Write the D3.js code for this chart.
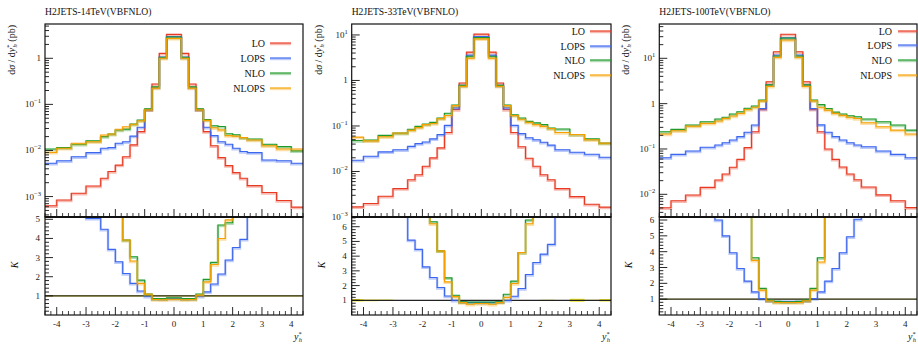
<!DOCTYPE html>
<html><head><meta charset="utf-8">
<script src="https://cdn.jsdelivr.net/npm/d3@7"></script>
<style>
body{margin:0;background:#fff;}
svg{font-family:"Liberation Serif","DejaVu Serif",serif;}
</style></head><body><svg id="c" width="918" height="346"></svg>
<script>
// ---------------- DATA ----------------
const binEdges = [-4.4,-4,-3.5,-3,-2.5,-2.25,-2,-1.75,-1.5,-1.25,-1,-0.75,-0.5,-0.25,0.25,0.5,0.75,1,1.25,1.5,1.75,2,2.25,2.5,3,3.5,4,4.4];
const seriesNames = ["LO","LOPS","NLO","NLOPS"];
const xTicks = [-4,-3,-2,-1,0,1,2,3,4];
const titles = ["H2JETS-14TeV(VBFNLO)","H2JETS-33TeV(VBFNLO)","H2JETS-100TeV(VBFNLO)"];

// 14 TeV
const lo14    = [0.00063,0.00084,0.00118,0.0017,0.0025,0.0035,0.0048,0.0073,0.0132,0.0256,0.078,0.277,1.28,3.3,1.28,0.277,0.078,0.0256,0.0127,0.0070,0.0047,0.0033,0.0025,0.00173,0.00122,0.00082,0.00059];
const lops14  = [0.0053,0.006,0.0073,0.009,0.0112,0.0115,0.0143,0.0155,0.0205,0.032,0.076,0.235,1.07,2.95,1.07,0.235,0.076,0.032,0.021,0.0155,0.0136,0.0112,0.0095,0.009,0.0062,0.006,0.0053];
const nlo14   = [0.0108,0.0115,0.0136,0.0163,0.020,0.0228,0.0279,0.029,0.0376,0.046,0.08,0.24,1.05,2.9,1.05,0.24,0.08,0.047,0.0345,0.033,0.023,0.022,0.019,0.0178,0.0136,0.0121,0.0098];
const nlops14 = [0.0091,0.0112,0.0143,0.0155,0.0217,0.0228,0.0288,0.0328,0.037,0.044,0.076,0.225,1.0,2.7,1.0,0.225,0.076,0.045,0.031,0.028,0.021,0.0205,0.019,0.0169,0.0127,0.0108,0.0108];
const kLops14  = [8.4,7.1,6.2,5.05,4.48,3.43,2.78,2.17,1.65,1.25,0.98,0.86,0.85,0.87,0.85,0.86,0.98,1.21,1.62,2.14,2.87,3.53,3.95,5.3,5.5,7.0,9.0];
const kNlo14   = [17,13.7,11.5,9.6,8.0,6.5,5.8,3.92,3.04,1.82,1.1,0.86,0.86,0.9,0.86,0.86,1.1,1.86,2.75,4.7,4.82,6.6,7.6,10.3,11.1,14.8,16.6];
const kNlops14 = [14.4,13.3,12.1,9.1,8.7,6.5,6.0,3.92,2.82,1.65,1.09,0.81,0.80,0.82,0.80,0.81,1.04,1.73,2.64,4.0,4.97,6.2,7.6,9.8,10.4,13.2,18.3];
const loErr14  = [0.03,0.03,0.03,0.03,0.03,0.03,0.03,0.03,0.03,0.03,0.03,0.03,0.03,0.03,0.03,0.03,0.03,0.03,0.03,0.03,0.03,0.03,0.03,0.03,0.03,0.03,0.03];

// 33 TeV
const lo33    = [0.00167,0.00198,0.00286,0.0042,0.0066,0.0085,0.013,0.0199,0.033,0.072,0.23,0.877,4.2,10.4,4.2,0.877,0.23,0.072,0.035,0.0195,0.013,0.0085,0.0066,0.0042,0.0028,0.0019,0.00165];
const lops33  = [0.0176,0.0216,0.027,0.030,0.0357,0.041,0.0446,0.052,0.0645,0.103,0.25,0.78,3.6,9.2,3.6,0.78,0.25,0.103,0.068,0.055,0.05,0.044,0.038,0.030,0.0265,0.024,0.0205];
const nlo33   = [0.048,0.049,0.062,0.07,0.085,0.098,0.11,0.12,0.15,0.19,0.29,0.78,3.4,8.8,3.4,0.78,0.29,0.177,0.15,0.126,0.117,0.107,0.09,0.086,0.065,0.052,0.042];
const nlops33 = [0.057,0.047,0.058,0.07,0.08,0.092,0.107,0.113,0.145,0.17,0.28,0.74,3.1,8.2,3.1,0.74,0.28,0.17,0.14,0.12,0.107,0.098,0.088,0.072,0.065,0.05,0.042];
const kLops33  = [10.5,10.9,9.4,7.1,5.09,4.46,3.27,2.55,1.87,1.29,1.0,0.89,0.86,0.86,0.86,0.89,1.0,1.27,1.8,2.75,3.57,4.14,4.8,7.1,9.5,12.6,12.4];
const kNlo33   = [28,25,21,17,13,11.5,8.5,6.34,4.36,2.52,1.34,0.89,0.88,0.88,0.88,0.89,1.41,2.3,4.25,6.46,9,12.6,13.6,20.5,23,27,25];
const kNlops33 = [34,24,20,17,12,10.8,8.2,6.2,4.36,2.25,1.25,0.84,0.73,0.78,0.73,0.84,1.2,2.14,4.25,6.2,8.2,11.5,13.3,17,23,26,25];
const loErr33  = [0.08,0.06,0.05,0.02,0.02,0.02,0.01,0.01,0.01,0.01,0.01,0.01,0.01,0.01,0.01,0.01,0.01,0.01,0.01,0.01,0.02,0.03,0.03,0.02,0.10,0.03,0.08];

// 100 TeV
const lo100    = [0.00506,0.00723,0.00964,0.01426,0.0207,0.028,0.0394,0.059,0.107,0.24,0.75,3.05,14,33.8,14,3.05,0.75,0.24,0.1,0.059,0.04,0.028,0.021,0.0145,0.0097,0.0072,0.0051];
const lops100  = [0.064,0.076,0.09,0.109,0.122,0.137,0.158,0.187,0.233,0.338,0.78,2.62,11.8,28.4,11.8,2.62,0.78,0.34,0.233,0.187,0.158,0.137,0.122,0.112,0.09,0.076,0.064];
const nlo100   = [0.24,0.27,0.338,0.4,0.46,0.5,0.59,0.66,0.79,0.89,1.2,2.6,11.2,28,11.2,2.6,1.2,0.95,0.78,0.65,0.59,0.54,0.515,0.46,0.40,0.338,0.26];
const nlops100 = [0.214,0.253,0.32,0.368,0.414,0.474,0.533,0.61,0.74,0.83,1.15,2.4,10.5,25.3,10.5,2.4,1.15,0.83,0.72,0.61,0.55,0.5,0.47,0.38,0.31,0.26,0.214];
const kLops100  = [12.6,10.5,9.3,7.6,6.0,5.0,3.93,2.94,2.14,1.46,1.04,0.9,0.86,0.86,0.86,0.9,1.04,1.46,2.14,2.94,3.93,4.94,6.05,7.7,9.3,10.5,12.5];
const kNlo100   = [28,24,21,17,14,10,8,6.8,7.4,3.62,1.68,0.94,0.86,0.83,0.86,0.94,1.68,3.62,7.8,11,14.7,19,24,32,41,47,51];
const kNlops100 = [26,22,19,16,13,9.5,7.5,6.5,6.9,3.45,1.57,0.9,0.79,0.79,0.79,0.9,1.57,3.35,7.2,10.3,13.7,17.8,22,26,32,36,42];
const loErr100  = [0.02,0.02,0.02,0.02,0.02,0.02,0.02,0.02,0.02,0.02,0.02,0.02,0.02,0.02,0.02,0.02,0.02,0.02,0.02,0.02,0.02,0.02,0.02,0.02,0.02,0.02,0.02];

// axis tick values
const yDecades14 = [1e-3,1e-2,1e-1,1];
const yDecades33 = [1e-3,1e-2,1e-1,1,10];
const yDecades100 = [1e-2,1e-1,1,10];
const kTicks14 = [1,2,3,4,5];
const kTicks33 = [1,2,3,4,5,6];
const kTicks100 = [1,2,3,4,5,6];

// ---------------- LAYOUT / STYLE ----------------
const TOP = 24, MID = 217, BOT = 315;
const colors = ["#e83a22","#3b66ee","#1f9a2a","#f5a000"];
const panels = [
  {title:titles[0], left:45, right:303, yDom:[3.6e-4,5.55], kMax:5.12, main:[lo14,lops14,nlo14,nlops14], ratio:[kLops14,kNlo14,kNlops14], err:loErr14, dec:yDecades14, kT:kTicks14, legTextX:-38, legL0:-33, legL1:-12, legY:[43,58,73,88]},
  {title:titles[1], left:351.7, right:611, yDom:[1.0e-3,17.4], kMax:6.66, main:[lo33,lops33,nlo33,nlops33], ratio:[kLops33,kNlo33,kNlops33], err:loErr33, dec:yDecades33, kT:kTicks33, legTextX:-26, legL0:-21, legL1:0, legY:[31,46,60,75]},
  {title:titles[2], left:659.3, right:917, yDom:[3.16e-3,57.1], kMax:6.19, main:[lo100,lops100,nlo100,nlops100], ratio:[kLops100,kNlo100,kNlops100], err:loErr100, dec:yDecades100, kT:kTicks100, legTextX:-25, legL0:-19, legL1:0, legY:[31,45,60,75]}
];

const svg = d3.select("#c");
const defs = svg.append("defs");
const line = d3.line();

function sup(sel, base, exp){
  sel.append("tspan").text(base);
  sel.append("tspan").attr("dy",-4).attr("font-size","6.5px").text(exp);
}

panels.forEach((p,pi)=>{
  const g = svg.append("g");
  const x = d3.scaleLinear().domain([-4.4,4.4]).range([p.left,p.right]);
  const y = d3.scaleLog().domain(p.yDom).range([MID,TOP]);
  const k = d3.scaleLinear().domain([0,p.kMax]).range([BOT,MID]);

  defs.append("clipPath").attr("id","cm"+pi).append("rect")
    .attr("x",p.left).attr("y",TOP).attr("width",p.right-p.left).attr("height",MID-TOP);
  defs.append("clipPath").attr("id","cr"+pi).append("rect")
    .attr("x",p.left).attr("y",MID).attr("width",p.right-p.left).attr("height",BOT-MID);

  const steps = (vals, sc) => {
    const pts = [];
    vals.forEach((v,i)=>{ pts.push([x(binEdges[i]),sc(v)]); pts.push([x(binEdges[i+1]),sc(v)]); });
    return pts;
  };

  // main plot curves
  const gm = g.append("g").attr("clip-path","url(#cm"+pi+")");
  p.main.forEach((vals,si)=>{
    const pts = steps(vals,y);
    gm.append("path").attr("d",line(pts.map(d=>[d[0],d[1]+1]))).attr("fill","none")
      .attr("stroke",colors[si]).attr("stroke-opacity",0.35).attr("stroke-width",2.4);
    gm.append("path").attr("d",line(pts)).attr("fill","none")
      .attr("stroke",colors[si]).attr("stroke-width",1.1);
  });

  // ratio plot
  const gr = g.append("g").attr("clip-path","url(#cr"+pi+")");
  const band = d3.area().x(d=>d[0]).y0(d=>d[1]).y1(d=>d[2]);
  const bpts = [];
  p.err.forEach((e,i)=>{ bpts.push([x(binEdges[i]),k(1-e),k(1+e)]); bpts.push([x(binEdges[i+1]),k(1-e),k(1+e)]); });
  gr.append("path").attr("d",band(bpts)).attr("fill","#f0e400").attr("fill-opacity",0.85);
  gr.append("line").attr("x1",p.left).attr("x2",p.right).attr("y1",k(1)).attr("y2",k(1))
    .attr("stroke","#222").attr("stroke-width",1.3);
  p.ratio.forEach((vals,ri)=>{
    const si = ri+1;
    const pts = steps(vals,k);
    gr.append("path").attr("d",line(pts.map(d=>[d[0],d[1]+1]))).attr("fill","none")
      .attr("stroke",colors[si]).attr("stroke-opacity",0.35).attr("stroke-width",2.4);
    gr.append("path").attr("d",line(pts)).attr("fill","none")
      .attr("stroke",colors[si]).attr("stroke-width",1.1);
  });

  // frames
  g.append("rect").attr("x",p.left).attr("y",TOP).attr("width",p.right-p.left).attr("height",MID-TOP)
    .attr("fill","none").attr("stroke","#111").attr("stroke-width",1.2);
  g.append("rect").attr("x",p.left).attr("y",MID).attr("width",p.right-p.left).attr("height",BOT-MID)
    .attr("fill","none").attr("stroke","#111").attr("stroke-width",1.2);
  g.append("line").attr("x1",p.left).attr("x2",p.right).attr("y1",MID).attr("y2",MID)
    .attr("stroke","#111").attr("stroke-width",2);

  // x ticks (main bottom and ratio bottom, pointing up)
  const xMinor = d3.range(-44,45,2).map(v=>v/10).filter(v=>Math.abs(v-Math.round(v))>1e-6);
  [MID,BOT].forEach(yb=>{
    xTicks.forEach(t=>{
      g.append("line").attr("x1",x(t)).attr("x2",x(t)).attr("y1",yb).attr("y2",yb-8).attr("stroke","#111").attr("stroke-width",0.9);
    });
    xMinor.forEach(t=>{
      g.append("line").attr("x1",x(t)).attr("x2",x(t)).attr("y1",yb).attr("y2",yb-4).attr("stroke","#111").attr("stroke-width",0.8);
    });
  });
  xTicks.forEach(t=>{
    g.append("text").attr("x",x(t)).attr("y",327).attr("text-anchor","middle")
      .attr("font-size","9px").attr("fill","#222").text(t<0 ? "-"+Math.abs(t) : String(t));
  });

  // main y ticks (log)
  const lo = Math.floor(Math.log10(p.yDom[0])), hi = Math.ceil(Math.log10(p.yDom[1]));
  for(let e=lo;e<=hi;e++){
    for(let m=1;m<10;m++){
      const v = m*Math.pow(10,e);
      if(v < p.yDom[0] || v > p.yDom[1]) continue;
      const len = m===1 ? 8 : 4;
      g.append("line").attr("x1",p.left).attr("x2",p.left+len).attr("y1",y(v)).attr("y2",y(v))
        .attr("stroke","#111").attr("stroke-width",0.9);
    }
  }
  p.dec.forEach(v=>{
    const t = g.append("text").attr("x",p.left-4).attr("y",y(v)+3).attr("text-anchor","end")
      .attr("font-size","9px").attr("fill","#222");
    const ex = Math.round(Math.log10(v));
    if(ex===0) t.text("1");
    else sup(t,"10", ex<0 ? "\u2212"+(-ex) : String(ex));
  });

  // ratio y ticks
  d3.range(1, Math.floor(p.kMax*5)+1).map(v=>v/5).forEach(v=>{
    const major = Math.abs(v-Math.round(v))<1e-6;
    g.append("line").attr("x1",p.left).attr("x2",p.left+(major?8:4)).attr("y1",k(v)).attr("y2",k(v))
      .attr("stroke","#111").attr("stroke-width",0.9);
  });
  p.kT.forEach(v=>{
    g.append("text").attr("x",p.left-5).attr("y",k(v)+3).attr("text-anchor","end")
      .attr("font-size","9px").attr("fill","#222").text(String(v));
  });

  // titles and labels
  g.append("text").attr("x",p.left).attr("y",15).attr("font-size","9.6px").attr("fill","#111").text(p.title);

  const yl = g.append("text").attr("transform",`translate(${p.left-30},${TOP+1}) rotate(-90)`)
    .attr("text-anchor","end").attr("font-size","10px").attr("fill","#111");
  yl.append("tspan").text("d");
  yl.append("tspan").attr("font-style","italic").text("σ");
  yl.append("tspan").text(" / d");
  yl.append("tspan").attr("font-style","italic").text("y");
  yl.append("tspan").attr("dy",-4).attr("font-size","6.5px").text("*");
  yl.append("tspan").attr("dy",6).attr("dx",-3).attr("font-size","6.5px").attr("font-style","italic").text("h");
  yl.append("tspan").attr("dy",-2).text(" (pb)");

  g.append("text").attr("transform",`translate(${p.left-27},265) rotate(-90)`)
    .attr("text-anchor","middle").attr("font-size","10px").attr("font-style","italic").attr("fill","#111").text("K");

  const xl = g.append("text").attr("x",p.right-1).attr("y",340).attr("text-anchor","end")
    .attr("font-size","10px").attr("fill","#111");
  xl.append("tspan").attr("font-style","italic").text("y");
  xl.append("tspan").attr("dy",-4).attr("font-size","6.5px").text("*");
  xl.append("tspan").attr("dy",6).attr("dx",-3).attr("font-size","6.5px").attr("font-style","italic").text("h");

  // legend
  seriesNames.forEach((n,si)=>{
    const ly = p.legY[si];
    g.append("text").attr("x",p.right+p.legTextX).attr("y",ly+3.5).attr("text-anchor","end")
      .attr("font-size","10px").attr("fill","#111").text(n);
    g.append("line").attr("x1",p.right+p.legL0).attr("x2",p.right+p.legL1).attr("y1",ly+1).attr("y2",ly+1)
      .attr("stroke",colors[si]).attr("stroke-opacity",0.35).attr("stroke-width",2.4);
    g.append("line").attr("x1",p.right+p.legL0).attr("x2",p.right+p.legL1).attr("y1",ly).attr("y2",ly)
      .attr("stroke",colors[si]).attr("stroke-width",1.1);
  });
});
</script></body></html>
